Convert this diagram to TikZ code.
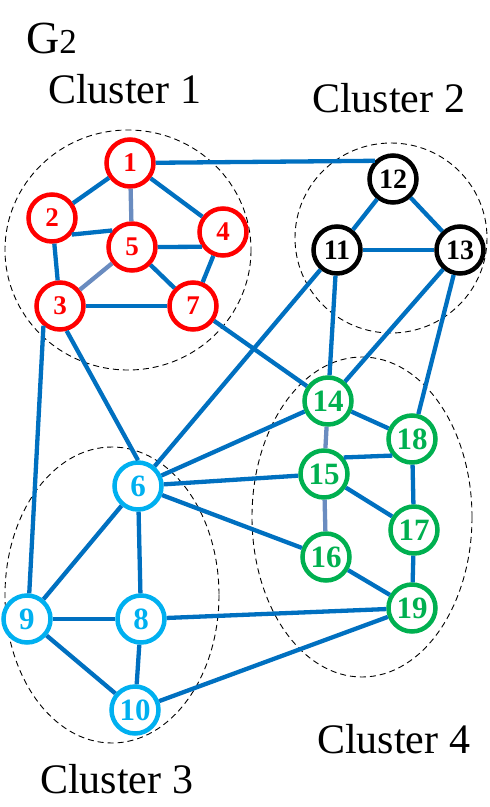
\documentclass[tikz,border=0pt]{standalone}
\usepackage{fontspec}
\setmainfont{Liberation Serif}
\definecolor{nred}{HTML}{FF0000}
\definecolor{ncyan}{HTML}{00B0F0}
\definecolor{ngreen}{HTML}{00B050}
\definecolor{eblue}{HTML}{0070C0}
\definecolor{egray}{HTML}{6A8CC0}
\tikzset{
  vtx/.style={circle, draw, line width=4.5pt, minimum size=47pt, inner sep=0pt, fill=white},
  rv/.style={vtx, draw=nred, text=nred, font=\bfseries\fontsize{27}{27}\selectfont},
  kv/.style={vtx, draw=black, text=black, font=\bfseries\fontsize{28}{28}\selectfont},
  cv/.style={vtx, draw=ncyan, text=ncyan, font=\bfseries\fontsize{31}{31}\selectfont},
  gv/.style={vtx, draw=ngreen, text=ngreen, font=\bfseries\fontsize{31}{31}\selectfont},
  lnk/.style={line width=4.3pt, draw=eblue},
  glnk/.style={line width=4.3pt, draw=egray},
  clus/.style={draw=black, dash pattern=on 6pt off 4pt, line width=0.9pt},
  lbl/.style={anchor=base west, inner sep=0pt, font=\fontsize{42}{42}\selectfont},
}
\begin{document}
\begin{tikzpicture}[x=1pt,y=-1pt]
\useasboundingbox (0,0) rectangle (490,807);
% clusters
\draw[clus] (128,250) ellipse [x radius=123, y radius=120];
\draw[clus] (391,238) ellipse [x radius=96, y radius=95];
\draw[clus] (112,595) ellipse [x radius=107, y radius=148];
\draw[clus] (362,517) ellipse [x radius=110, y radius=160];
% labels
\node[lbl] (g2) at (26,53) {{\fontsize{46}{46}\selectfont G}{\fontsize{35}{35}\selectfont 2}};
\node[lbl] (c1) at (48,103) {Cluster 1};
\node[lbl] (c2) at (312,112) {Cluster 2};
\node[lbl] (c3) at (40,793) {Cluster 3};
\node[lbl] (c4) at (317,753) {Cluster 4};
% nodes
\node[rv] (n1) at (130,163) {1};
\node[rv] (n2) at (52,218) {2};
\node[rv] (n3) at (60,306) {3};
\node[rv] (n4) at (223,232) {4};
\node[rv] (n5) at (132,247) {5};
\node[rv] (n7) at (193,306) {7};
\node[kv] (n12) at (393,179) {12};
\node[kv] (n11) at (337,250) {11};
\node[kv] (n13) at (460,250) {13};
\node[cv] (n6) at (138,486) {6};
\node[cv] (n8) at (141,619) {8};
\node[cv] (n9) at (27,619) {9};
\node[cv] (n10) at (135,710) {10};
\node[gv] (n14) at (328,401) {14};
\node[gv] (n15) at (324,474) {15};
\node[gv] (n16) at (326,557) {16};
\node[gv] (n17) at (414,530) {17};
\node[gv] (n18) at (412,439) {18};
\node[gv] (n19) at (412,608) {19};
% edges
\draw[lnk] (n1) -- (n12.135);
\draw[lnk] (n1) -- (n2);
\draw[lnk] (n1) -- (n4);
\draw[glnk] (n1) -- (n5);
\draw[lnk] (n2.-40) -- (n5.140);
\draw[lnk] (n2) -- (n3);
\draw[lnk] (n5.east) -- (n4.215);
\draw[glnk] (n5) -- (n3);
\draw[lnk] (n5) -- (n7);
\draw[lnk] (n4) -- (n7);
\draw[lnk] (n3) -- (n7);
\draw[lnk] (n3.230) -- (n9.85);
\draw[lnk] (n3.285) -- (n6.north);
\draw[lnk] (n7) -- (n14);
\draw[lnk] (n12) -- (n11);
\draw[lnk] (n12) -- (n13);
\draw[lnk] (n11) -- (n13);
\draw[lnk] (n11) -- (n6);
\draw[lnk] (n11) -- (n14);
\draw[lnk] (n13) -- (n14);
\draw[lnk] (n13) -- (n18);
\draw[lnk] (n14) -- (n6);
\draw[glnk] (n14) -- (n15);
\draw[lnk] (n14) -- (n18);
\draw[lnk] (n15) -- (n6);
\draw[lnk] (n15.40) -- (n18.220);
\draw[lnk] (n15) -- (n17);
\draw[glnk] (n15) -- (n16);
\draw[lnk] (n6) -- (n16);
\draw[lnk] (n18) -- (n17);
\draw[lnk] (n17) -- (n19);
\draw[lnk] (n16) -- (n19);
\draw[lnk] (n6) -- (n9);
\draw[lnk] (n6) -- (n8);
\draw[lnk] (n9) -- (n8);
\draw[lnk] (n8) -- (n19);
\draw[lnk] (n9) -- (n10);
\draw[lnk] (n8) -- (n10);
\draw[lnk] (n10) -- (n19);
\end{tikzpicture}
\end{document}
